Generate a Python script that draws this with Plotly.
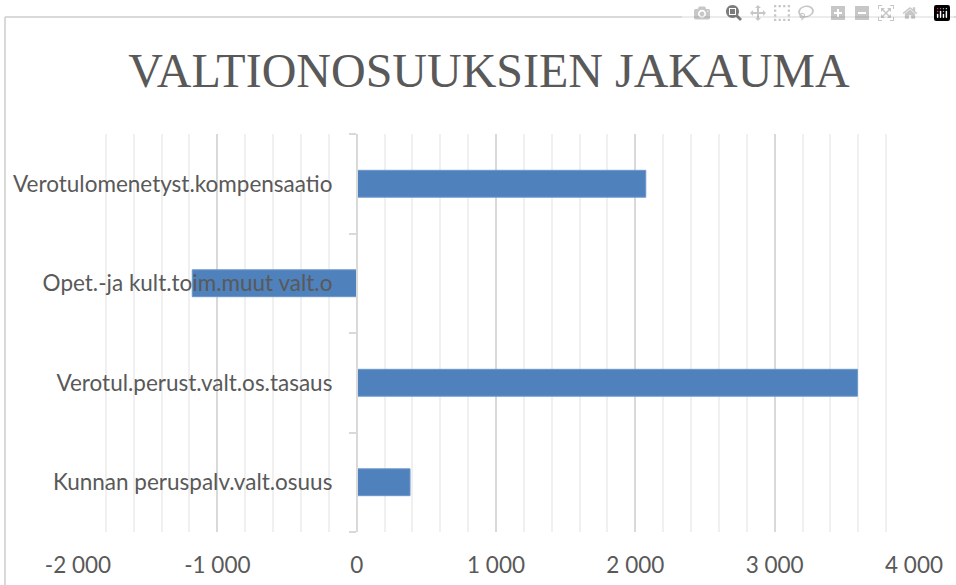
import plotly.graph_objects as go

categories = [
    "Kunnan peruspalv.valt.osuus",
    "Verotul.perust.valt.os.tasaus",
    "Opet.-ja kult.toim.muut valt.o",
    "Verotulomenetyst.kompensaatio",
]
values = [383, 3594, -1180, 2075]
x_tickvals = [-2000, -1000, 0, 1000, 2000, 3000, 4000]
x_ticktext = ["-2 000", "-1 000", "0", "1 000", "2 000", "3 000", "4 000"]
title_text = "VALTIONOSUUKSIEN JAKAUMA"

# body margin removed via post_script, so figure starts at page (0, 0)
W, H = 956, 585
L, T = 78, 134
R = W - L - 836
B = H - T - 398

fig = go.Figure(go.Bar(
    y=categories, x=values, orientation="h",
    marker=dict(color="#4F81BD", line=dict(color="#6C96CB", width=1)),
    width=0.27,
))

label_font = dict(family="Lato, Liberation Sans, sans-serif", size=22.5, color="#595959")

fig.update_layout(
    width=W, height=H,
    margin=dict(l=L, r=R, t=T, b=B, autoexpand=False),
    paper_bgcolor="white", plot_bgcolor="white",
    showlegend=False,
    title=dict(text=title_text, x=(489 - L) / 836, xref="paper", xanchor="center",
               y=1 - 70 / H, yref="container", yanchor="middle",
               font=dict(family="Liberation Serif, serif", size=48, color="#595959")),
    xaxis=dict(range=[-2000, 4000], tickvals=x_tickvals, ticktext=x_ticktext,
               automargin=False,
               showgrid=True, gridcolor="#D9D9D9", gridwidth=1.5,
               zeroline=False, showline=False, ticks="",
               ticklabelstandoff=17,
               tickfont=label_font,
               minor=dict(dtick=200, tick0=0, showgrid=True, gridcolor="#F0F0F0", gridwidth=1.5)),
    yaxis=dict(type="category", anchor="free", position=2000 / 6000,
               automargin=False,
               showline=True, linecolor="#D9D9D9", linewidth=1.5,
               ticks="outside", tickson="boundaries", ticklen=7, tickcolor="#D9D9D9", tickwidth=1.5,
               showgrid=False, ticklabelstandoff=19,
               tickfont=label_font),
    bargap=0.73,
)

# chart area border (top and left edges visible)
bx = (5 - L) / 836
bx_end = (W - L) / 836
by = (398 + T - 17) / 398
by_end = -B / 398
border = dict(color="#D9D9D9", width=2)
fig.add_shape(type="line", xref="paper", yref="paper", x0=bx, x1=bx_end, y0=by, y1=by,
              line=border, layer="below")
fig.add_shape(type="line", xref="paper", yref="paper", x0=bx, x1=bx, y0=by, y1=by_end,
              line=border, layer="below")

fig.write_html(
    "out.html",
    post_script="document.body.style.margin='0';document.body.style.overflow='hidden';",
)
